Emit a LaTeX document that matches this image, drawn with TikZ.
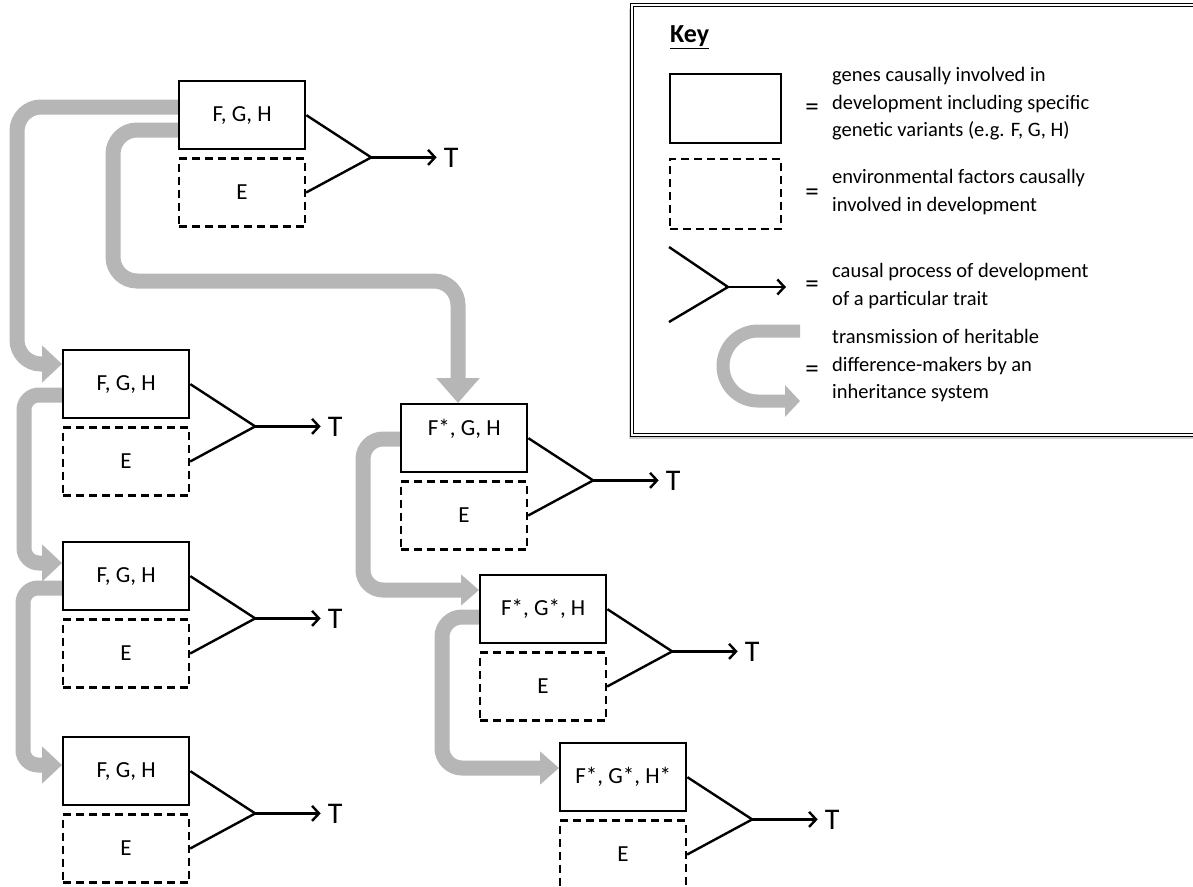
\documentclass[tikz,border=0pt]{standalone}
\usepackage{fontspec}
\setmainfont{Carlito}
\usetikzlibrary{arrows.meta,calc,backgrounds}
\definecolor{inhgray}{RGB}{182,182,182}
\newcommand\devunit[4]{%
  \node[gene] (g#1) at (#2,#3) {#4};
  \node[env] (e#1) at ($(g#1.south west)+(0,7)$) {E};
  \coordinate (a#1) at ($(e#1.north east)+(65,0)$);
  \node[tlabel] (t#1) at ($(a#1)+(80,0)$) {T};
  \draw[fork] (g#1.east) -- (a#1) -- (e#1.east);
  \draw[trait] (a#1) -- (t#1.west);
}
\begin{document}
\begin{tikzpicture}[x=1pt,y=-1pt,
  gene/.style={draw, line width=2.4pt, minimum width=126pt, minimum height=68pt,
    inner sep=0pt, anchor=north west, font=\fontsize{23}{26}\selectfont},
  env/.style={gene, dash pattern=on 8pt off 5pt, line width=2.2pt},
  fork/.style={line width=2.4pt, line join=miter},
  trait/.style={line width=2.4pt, -{Straight Barb[length=7pt,width=15pt]}},
  tlabel/.style={font=\fontsize{30}{32}\selectfont, inner sep=7pt},
  inh/.style={line width=15pt, draw=inhgray, -{Triangle[width=36pt,length=20pt]}},
  inhk/.style={line width=13pt, draw=inhgray, -{Triangle[width=31pt,length=15pt]}},
  keytext/.style={font=\fontsize{20.5}{27.5}\selectfont, align=left, anchor=west, inner sep=0pt},
  eqsign/.style={font=\fontsize{27}{28}\selectfont, inner sep=0pt},
]
\useasboundingbox (0,0) rectangle (1193,886);

% units
\devunit{1}{178}{80}{F, G, H}
\devunit{2}{62}{349}{F, G, H}
\devunit{3}{62}{541}{F, G, H}
\devunit{4}{62}{736}{F, G, H}
\devunit{5}{400}{403}{\raisebox{3pt}[0pt][0pt]{F*, G, H}}
\devunit{6}{479}{574}{F*, G*, H}
\devunit{7}{559}{742}{F*, G*, H*}

\begin{scope}[on background layer]
  \fill[white] (0,0) rectangle (1193,886);
  % inheritance arrows
  \draw[inh, rounded corners=24pt] ($(g1.north west)+(0,27)$) -| (17,250) |- ($(g2.north west)+(0,15)$);
  \draw[inh, rounded corners=24pt, -{Triangle[width=42pt,length=25pt]}]
       ($(g1.north west)+(0,50)$) -| (113,281) -| ($(g5.north west)+(58,0)$);
  \draw[inh, rounded corners=15pt] ($(g2.north west)+(0,46)$) -| (24,480) |- ($(g3.north west)+(0,22)$);
  \draw[inh, rounded corners=15pt] ($(g3.north west)+(0,47)$) -| (23,680) |- ($(g4.north west)+(0,29)$);
  \draw[inh, rounded corners=20pt, -{Triangle[width=30pt,length=18pt]}]
       ($(g5.north west)+(0,36)$) -| (363,520) |- ($(g6.north west)+(0,16)$);
  \draw[inh, rounded corners=20pt, -{Triangle[width=32pt,length=19pt]}]
       ($(g6.north west)+(0,43)$) -| (442,700) |- ($(g7.north west)+(0,26)$);
\end{scope}

% key frame
\fill[black!18] (629,9) rectangle (1210,439);
\draw[double=white, double distance=2pt, line width=1.3pt, fill=white] (632,5) rectangle (1210,435);

\node[font=\fontsize{26}{28}\selectfont\bfseries, anchor=west, inner sep=0pt] (keytitle) at (670,37) {\underline{Key}};

\node[gene, minimum width=111pt, minimum height=69pt] (kg) at (669,73) {};
\node[env, minimum width=111pt, minimum height=70pt] (ke) at (669,158) {};

\coordinate (kf1) at (669,247);
\coordinate (kf2) at (669,322);
\coordinate (ka) at (728,287);
\coordinate (kt) at (786,287);
\draw[fork] (kf1) -- (ka) -- (kf2);
\draw[trait] (ka) -- (kt);

\coordinate (kc1) at (800,331);
\coordinate (kc2) at (800,401);
\draw[inhk, rounded corners=35pt] (kc1) -- (723,331) -- (723,401) -- (kc2);

\node[eqsign] (eq1) at (812,110) {=};
\node[eqsign] (eq2) at (812,195) {=};
\node[eqsign] (eq3) at (812,287) {=};
\node[eqsign] (eq4) at (812,372) {=};

\node[keytext] (k1) at (832,104) {genes causally involved in\\development including specific\\genetic variants (e.g. F, G, H)};
\node[keytext] (k2) at (832,192) {environmental factors causally\\involved in development};
\node[keytext] (k3) at (832,286) {causal process of development\\of a particular trait};
\node[keytext] (k4) at (832,366) {transmission of heritable\\difference-makers by an\\inheritance system};
\end{tikzpicture}
\end{document}
